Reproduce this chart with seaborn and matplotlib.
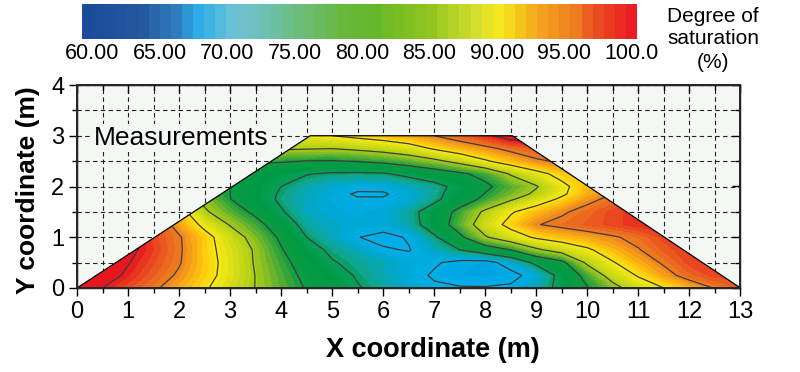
import numpy as np
import seaborn as sns
import matplotlib
matplotlib.use("Agg")
import matplotlib.pyplot as plt
from matplotlib.colors import LinearSegmentedColormap
from matplotlib.patches import Polygon
from matplotlib.ticker import MultipleLocator, NullFormatter

# ---- degree of saturation, one row per Y, columns X = 0, 0.5 ... 13 ----
grid_x = [0, .5, 1, 1.5, 2, 2.5, 3, 3.5, 4, 4.5, 5, 5.5, 6, 6.5, 7, 7.5, 8, 8.5, 9, 9.5, 10,
          10.5, 11, 11.5, 12, 12.5, 13]
grid_y = [0, .25, .5, .75, 1, 1.25, 1.5, 1.75, 1.85, 2, 2.25, 2.5, 2.75, 3]
row_000 = [103, 100, 97.8, 95.6, 93.1, 90.5, 87.7, 84.9, 82.3, 79.7, 77.5, 75.3, 73.6, 72, 70.5, 70.2, 70.2, 70.5, 73, 76.2, 79.8, 83.5, 87.5, 90, 92.6, 95.2, 97]
row_025 = [103, 102, 99.3, 96.9, 94.5, 91.4, 88.5, 84.9, 81.8, 79, 76.7, 74.6, 72.9, 71.2, 69.6, 68.8, 68.5, 69, 71.3, 76.5, 81.5, 87, 90.4, 93.6, 96.5, 98, 98]
row_050 = [103, 103, 100.2, 97.7, 95.3, 91.7, 88.5, 84.6, 81.2, 78.1, 75.3, 73.9, 72.8, 71.5, 70.4, 69, 68.7, 71.5, 76, 78.9, 85.8, 89.7, 92.8, 95.5, 98, 98.5, 98]
row_075 = [103, 103, 101, 98.4, 95.5, 91.5, 88.2, 84.5, 80.3, 76.7, 74.2, 72.5, 70.4, 69.8, 72.4, 75, 77.5, 80, 84.2, 86.9, 89.3, 92.4, 94.8, 97, 98.5, 98.5, 98.5]
row_100 = [103, 102, 102, 98, 95.4, 91.5, 87.4, 83.3, 79.3, 75, 72.5, 70.1, 69, 70.3, 74.4, 79.1, 84.6, 87.9, 90.6, 92, 93.3, 94.6, 96, 98, 98.5, 98.5, 98.5]
row_125 = [102, 102, 101, 98, 93.5, 88.9, 84.7, 81.4, 77.6, 73.5, 72.3, 71.5, 71.5, 73.2, 77.2, 82.2, 87.5, 91.3, 94.8, 96, 97, 98, 99, 99, 99, 99, 99]
row_150 = [100, 100, 100, 100, 92, 85.6, 82.2, 79.1, 75.4, 72.5, 71.5, 71, 71.5, 73.6, 77.2, 81.2, 85.8, 89.6, 92.2, 94.5, 96.3, 98, 99, 99, 99, 99, 99]
row_175 = [88, 88, 88, 88, 88, 84, 80.1, 77.2, 74.3, 72.5, 71, 70.4, 70.4, 71.5, 74, 77.7, 81, 84.5, 87.6, 90.8, 94, 96, 97, 97, 97, 97, 97]
row_185 = [85, 85, 85, 85, 85, 82.5, 80, 77.3, 74.5, 72.7, 71.3, 69.5, 69.5, 71.8, 73.9, 77, 80.2, 83, 85.8, 89.3, 93, 95, 95, 95, 95, 95, 95]
row_200 = [82, 82, 82, 82, 82, 82, 80, 77.4, 75, 73, 71.8, 71, 71.2, 72.3, 73.7, 76.3, 79.2, 82, 84.7, 88.9, 92.5, 93, 93, 93, 93, 93, 93]
row_225 = [78, 78, 78, 78, 78, 78, 78, 78, 76.5, 75.2, 74.5, 74.4, 74.6, 76, 77.6, 79.3, 81.3, 85.4, 88.6, 91.5, 92, 92, 92, 92, 92, 92, 92]
row_250 = [80.5, 80.5, 80.5, 80.5, 80.5, 80.5, 80.5, 80.5, 80.4, 79.9, 79.8, 80.2, 81, 82.3, 84, 86.4, 89.5, 92.2, 94.5, 95.5, 95.5, 95.5, 95.5, 95.5, 95.5, 95.5, 95.5]
row_275 = [85.5, 85.5, 85.5, 85.5, 85.5, 85.5, 85.5, 85.5, 85.5, 85.3, 85.1, 85.8, 86.7, 88, 90.5, 92.6, 94.1, 96, 97, 97, 97, 97, 97, 97, 97, 97, 97]
row_300 = [88, 88, 88, 88, 88, 88, 88, 88, 88, 89, 90, 91, 92, 93.4, 95, 96.8, 99, 102, 102, 102, 102, 102, 102, 102, 102, 102, 102]

contour_levels = [70, 75, 80, 85, 90, 95, 100]
bar_ticks = [60, 65, 70, 75, 80, 85, 90, 95, 100]
bar_labels = ["60.00", "65.00", "70.00", "75.00", "80.00", "85.00", "90.00", "95.00", "100.0"]
dam_x = [0.0, 4.57, 8.53, 13.0]
dam_y = [0.0, 3.0, 3.0, 0.0]

bar_colors = [(0.00, "#1b4b9b"), (0.10, "#24589f"), (0.17, "#3182c3"), (0.20, "#28ace6"),
              (0.27, "#6fc3d8"), (0.36, "#6dbf94"), (0.47, "#68b83c"), (0.53, "#66b82a"),
              (0.63, "#92c41f"), (0.72, "#d8e02e"), (0.76, "#f6e81e"), (0.82, "#f5ad1d"),
              (0.90, "#ee7b22"), (0.93, "#e8541f"), (1.00, "#ec1c24")]
field_colors = [(0.00, "#1b4b9b"), (0.20, "#00a0e0"), (0.25, "#00aeea"), (0.30, "#00a8d0"),
                (0.35, "#10a590"), (0.375, "#05a05a"), (0.43, "#009a44"), (0.50, "#0a9c42"),
                (0.56, "#60b030"), (0.625, "#a8cc18"), (0.75, "#f7ea14"), (0.80, "#fdc70c"),
                (0.875, "#f08320"), (0.94, "#e9541f"), (1.00, "#e8171f")]

sns.set_theme(style="ticks")
plt.rcParams["font.family"] = ["Liberation Sans", "DejaVu Sans"]

W, H = 800, 372
fig = plt.figure(figsize=(W / 100, H / 100), dpi=100, facecolor="white")

# ---- main plot ----
ax = fig.add_axes([77 / W, (H - 288) / H, (740.5 - 77) / W, (288 - 85) / H])
ax.set_facecolor("#f4f8f4")
ax.set_xlim(0, 13)
ax.set_ylim(0, 4)

field = np.array([row_000, row_025, row_050, row_075, row_100, row_125, row_150, row_175,
                  row_185, row_200, row_225, row_250, row_275, row_300], dtype=float)

field_cmap = LinearSegmentedColormap.from_list("field", field_colors)
bar_cmap = LinearSegmentedColormap.from_list("bar", bar_colors)

clip = Polygon(np.column_stack([dam_x, dam_y]), closed=True, transform=ax.transData,
               facecolor="none", edgecolor="none")
ax.add_patch(clip)
filled = ax.contourf(grid_x, grid_y, field, levels=np.linspace(60, 100, 51), cmap=field_cmap,
                     extend="both", zorder=2)
filled.set_clip_path(clip)
lines = ax.contour(grid_x, grid_y, field, levels=contour_levels,
                   colors="#3c3c3c", linewidths=0.9, zorder=3)
lines.set_clip_path(clip)

sns.lineplot(x=dam_x, y=dam_y, sort=False, estimator=None, color="black",
             linewidth=0.9, ax=ax, zorder=4, legend=False)

for axis in (ax.xaxis, ax.yaxis):
    axis.set_major_locator(MultipleLocator(1))
    axis.set_minor_locator(MultipleLocator(0.5))
ax.grid(True, which="both", color="#222222", linestyle=(0, (4, 3)), linewidth=0.8, zorder=1)
ax.set_axisbelow(True)
ax.tick_params(axis="both", which="major", length=6, width=1, color="black",
               labelsize=17, labelcolor="black", pad=3)
ax.tick_params(axis="both", which="minor", length=3.5, width=1, color="black")
for side in ("top", "right", "left", "bottom"):
    ax.spines[side].set_visible(True)
    ax.spines[side].set_color("black")
    ax.spines[side].set_linewidth(1)

# inward ticks on the top and right edges
top = ax.twiny()
top.set_xlim(ax.get_xlim())
right = ax.twinx()
right.set_ylim(ax.get_ylim())
for twin, axis in ((top, top.xaxis), (right, right.yaxis)):
    axis.set_major_locator(MultipleLocator(1))
    axis.set_minor_locator(MultipleLocator(0.5))
    axis.set_major_formatter(NullFormatter())
    axis.set_minor_formatter(NullFormatter())
    twin.grid(False)
    twin.tick_params(which="major", direction="in", length=6, width=1, color="black")
    twin.tick_params(which="minor", direction="in", length=3.5, width=1, color="black")

ax.set_xlabel("X coordinate (m)", fontsize=19.5, fontweight="bold", color="black")
ax.xaxis.set_label_coords((433 - 77) / (740.5 - 77), -(357 - 288) / (288 - 85), transform=ax.transAxes)
ax.xaxis.label.set_va("baseline")
ax.set_ylabel("Y coordinate (m)", fontsize=19, fontweight="bold", color="black")
ax.yaxis.set_label_coords(-(77 - 35) / (740.5 - 77), (288 - 190) / (288 - 85), transform=ax.transAxes)
ax.yaxis.label.set_va("baseline")
ax.text(0.33, 2.95, "Measurements", fontsize=19, color="black", va="center", ha="left", zorder=5,
        bbox=dict(facecolor="#f4f8f4", edgecolor="none", pad=1.5))

# ---- colour bar ----
cax = fig.add_axes([82 / W, (H - 39) / H, (637 - 82) / W, 35 / H])
n_cells = 50
cell_values = np.linspace(60, 100, n_cells).reshape(1, -1)
sns.heatmap(cell_values, ax=cax, cmap=bar_cmap, vmin=60, vmax=100, cbar=False,
            xticklabels=False, yticklabels=False)
cax.set_xticks([(92 + (v - 60) / 40 * 540 - 82) / 555 * n_cells for v in bar_ticks])
cax.set_xticklabels(bar_labels, fontsize=15.5, color="black", rotation=0)
cax.tick_params(axis="x", length=0, pad=3)

for label, py in (("Degree of", 16), ("saturation", 38), ("(%)", 63)):
    fig.text(713 / W, (H - py) / H, label, fontsize=15, color="black", ha="center", va="center")

fig.savefig("out.png", dpi=100, facecolor="white")
